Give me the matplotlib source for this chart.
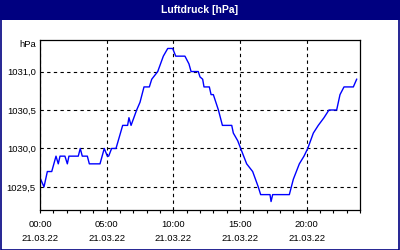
import matplotlib
matplotlib.use("Agg")
import matplotlib.pyplot as plt
from matplotlib.patches import Rectangle
from matplotlib.ticker import MultipleLocator, FixedLocator

# data: hours since 21.03.22 00:00, pressure in hPa
hours = [0.05, 0.3, 0.55, 0.88, 1.2, 1.37, 1.5, 1.87, 2.05, 2.17, 2.87, 3.02, 3.17, 3.55,
         3.7, 4.5, 4.82, 5.05, 5.15, 5.37, 5.7, 6.2, 6.57, 6.67, 6.83, 7.25, 7.5, 7.8,
         8.2, 8.38, 8.83, 9.25, 9.58, 9.95, 10.18, 10.87, 11.17, 11.33, 11.87, 12.0,
         12.2, 12.3, 12.7, 12.83, 13.0, 13.38, 13.68, 14.38, 14.5, 14.83, 15.05, 15.5,
         15.95, 16.37, 16.55, 17.25, 17.33, 17.45, 18.7, 19.0, 19.45, 19.8, 20.08, 20.5,
         20.87, 21.3, 21.67, 22.25, 22.5, 22.8, 23.5, 23.75]
pressure = [1029.6, 1029.5, 1029.7, 1029.7, 1029.9, 1029.8, 1029.9, 1029.9, 1029.8, 1029.9,
            1029.9, 1030.0, 1029.9, 1029.9, 1029.8, 1029.8, 1030.0, 1029.9, 1029.9, 1030.0,
            1030.0, 1030.3, 1030.3, 1030.4, 1030.3, 1030.5, 1030.6, 1030.8, 1030.8, 1030.9,
            1031.0, 1031.2, 1031.3, 1031.3, 1031.2, 1031.2, 1031.1, 1031.0, 1031.0, 1030.93,
            1030.9, 1030.8, 1030.8, 1030.7, 1030.7, 1030.5, 1030.3, 1030.3, 1030.2, 1030.1,
            1030.0, 1029.8, 1029.7, 1029.5, 1029.4, 1029.4, 1029.31, 1029.4, 1029.4, 1029.6,
            1029.8, 1029.9, 1030.0, 1030.2, 1030.3, 1030.4, 1030.5, 1030.5, 1030.7, 1030.8,
            1030.8, 1030.9]

x_ticks = [0, 5, 10, 15, 20]
x_labels = ["00:00\n21.03.22", "05:00\n21.03.22", "10:00\n21.03.22",
            "15:00\n21.03.22", "20:00\n21.03.22"]
y_ticks = [1029.5, 1030.0, 1030.5, 1031.0]
y_labels = ["1029,5", "1030,0", "1030,5", "1031,0"]
title = "Luftdruck [hPa]"
unit = "hPa"

navy = "#000080"
plt.rcParams['font.family'] = ['Liberation Sans', 'DejaVu Sans']

fig = plt.figure(figsize=(4, 2.5), dpi=100)
fig.patch.set_facecolor("white")
fig.add_artist(Rectangle((0, 230 / 250), 1, 20 / 250, transform=fig.transFigure,
                         facecolor=navy, edgecolor="none", zorder=0))
fig.add_artist(Rectangle((0.0015, 0.002), 0.997, 0.996, transform=fig.transFigure,
                         fill=False, edgecolor=navy, lw=1.2, zorder=5))
fig.text(0.5, 240 / 250, title, color="white", fontsize=7.5, fontweight="bold",
         ha="center", va="center")

ax = fig.add_axes([40 / 400, 40 / 250, 320 / 400, 170 / 250])
ax.plot(hours, pressure, color="#0000ff", lw=1.0)
ax.set_xlim(0, 24)
ax.set_ylim(1029.2, 1031.41)

ax.xaxis.set_major_locator(FixedLocator(x_ticks))
ax.set_xticklabels(x_labels)
ax.xaxis.set_minor_locator(MultipleLocator(1))
ax.yaxis.set_major_locator(FixedLocator(y_ticks))
ax.set_yticklabels(y_labels)

ax.tick_params(axis="x", which="both", direction="out", length=2.5, width=0.8,
               labelsize=6.8, pad=5)
ax.tick_params(axis="y", which="both", length=0, labelsize=6.8, pad=3)
for lbl in ax.get_xticklabels():
    lbl.set_linespacing(1.7)

ax.grid(True, which="major", color="black", linestyle=(0, (3, 3)), lw=0.8)
for s in ax.spines.values():
    s.set_linewidth(0.9)
    s.set_color("black")

fig.text(36 / 400, 1 - 45 / 250, unit, fontsize=6.8, ha="right", va="center")

fig.savefig("out.png", dpi=100)
